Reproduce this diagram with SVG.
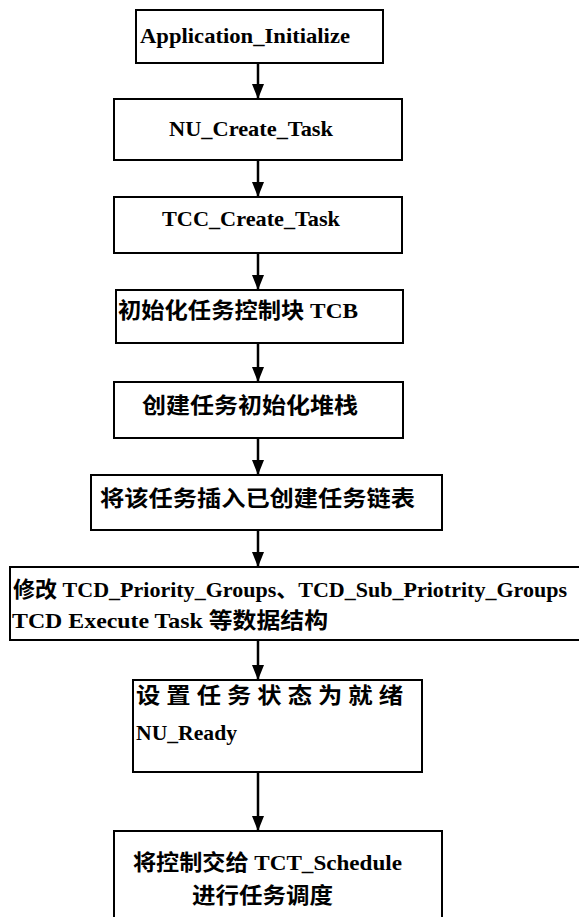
<svg xmlns="http://www.w3.org/2000/svg" width="579" height="917" viewBox="0 0 579 917">
<style>
.box{fill:#fff;stroke:#000;stroke-width:2}
.t{font-family:'Liberation Serif','Times New Roman','Noto Sans CJK SC',serif;font-weight:700;font-size:22px;fill:#000}
.c{stroke:#000;stroke-width:2.5;fill:none}
</style>
<defs>
<marker id="ah" markerWidth="15" markerHeight="12" refX="15" refY="6" orient="auto" markerUnits="userSpaceOnUse" viewBox="0 0 15 12">
<path d="M0,0 L15,6 L0,12 Z" fill="#000"/>
</marker>
</defs>
<rect width="579" height="917" fill="#fff"/>
<g id="connectors">
<line class="c" x1="258" y1="63" x2="258" y2="99" marker-end="url(#ah)"/>
<line class="c" x1="258" y1="160" x2="258" y2="197" marker-end="url(#ah)"/>
<line class="c" x1="258" y1="253" x2="258" y2="290" marker-end="url(#ah)"/>
<line class="c" x1="258" y1="343" x2="258" y2="382" marker-end="url(#ah)"/>
<line class="c" x1="258" y1="438" x2="258" y2="475" marker-end="url(#ah)"/>
<line class="c" x1="258" y1="530" x2="258" y2="567" marker-end="url(#ah)"/>
<line class="c" x1="258" y1="640" x2="258" y2="680" marker-end="url(#ah)"/>
<line class="c" x1="258" y1="772" x2="258" y2="831" marker-end="url(#ah)"/>
</g>
<g id="n1">
<rect class="box" x="136" y="10" width="247" height="53"/>
<text class="t" x="140" y="43" textLength="210" lengthAdjust="spacingAndGlyphs">Application_Initialize</text>
</g>
<g id="n2">
<rect class="box" x="114" y="99" width="288" height="61"/>
<text class="t" x="169" y="136" textLength="164" lengthAdjust="spacingAndGlyphs">NU_Create_Task</text>
</g>
<g id="n3">
<rect class="box" x="114" y="197" width="288" height="56"/>
<text class="t" x="162" y="226" textLength="178" lengthAdjust="spacingAndGlyphs">TCC_Create_Task</text>
</g>
<g id="n4">
<rect class="box" x="116" y="290" width="287" height="53"/>
<text class="t" x="118" y="318" textLength="240" lengthAdjust="spacingAndGlyphs">初始化任务控制块 TCB</text>
</g>
<g id="n5">
<rect class="box" x="114" y="382" width="289" height="56"/>
<text class="t" x="142" y="413" textLength="216" lengthAdjust="spacingAndGlyphs">创建任务初始化堆栈</text>
</g>
<g id="n6">
<rect class="box" x="91" y="475" width="351" height="55"/>
<text class="t" x="100" y="506" textLength="315" lengthAdjust="spacingAndGlyphs">将该任务插入已创建任务链表</text>
</g>
<g id="n7">
<rect class="box" x="10" y="567" width="580" height="73"/>
<text class="t" x="13" y="597" textLength="554" lengthAdjust="spacingAndGlyphs">修改 TCD_Priority_Groups、TCD_Sub_Priotrity_Groups</text>
<text class="t" x="12" y="628" textLength="316" lengthAdjust="spacingAndGlyphs">TCD  Execute  Task 等数据结构</text>
</g>
<g id="n8">
<rect class="box" x="133" y="680" width="289" height="92"/>
<text class="t" x="136" y="703" textLength="267" lengthAdjust="spacingAndGlyphs">设 置 任 务 状 态 为 就 绪</text>
<text class="t" x="136" y="740" textLength="101" lengthAdjust="spacingAndGlyphs">NU_Ready</text>
</g>
<g id="n9">
<rect class="box" x="114" y="831" width="328" height="100"/>
<text class="t" x="133" y="870" textLength="269" lengthAdjust="spacingAndGlyphs">将控制交给 TCT_Schedule</text>
<text class="t" x="192" y="903" textLength="141" lengthAdjust="spacingAndGlyphs">进行任务调度</text>
</g>
</svg>
